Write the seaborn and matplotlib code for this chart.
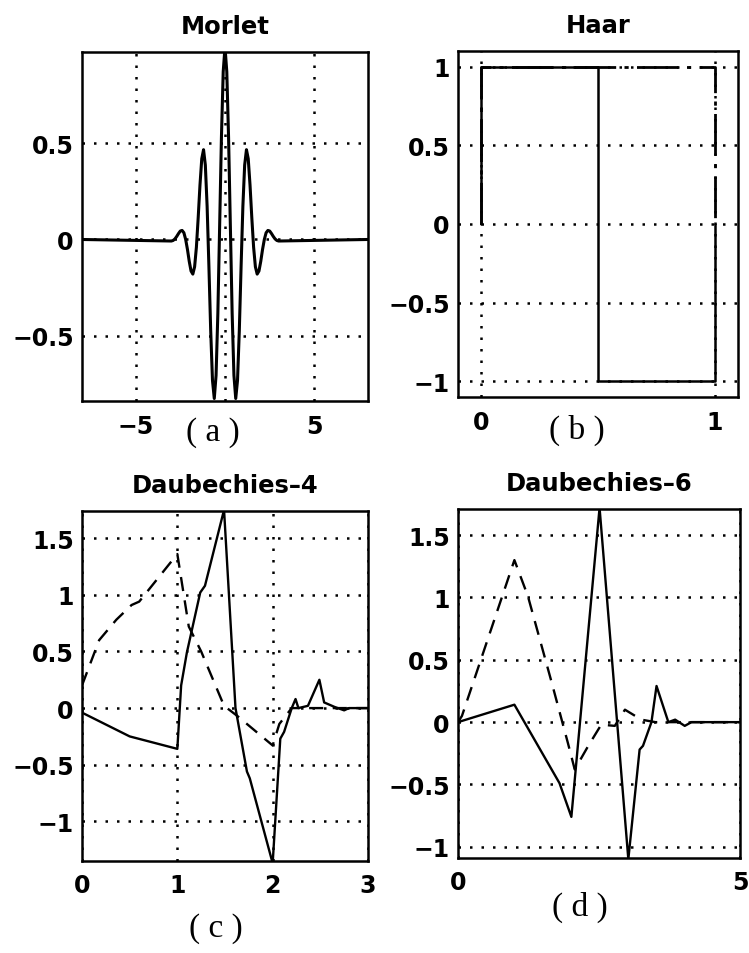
import matplotlib
matplotlib.use("Agg")
import matplotlib.pyplot as plt
import seaborn as sns

# ---------------- data ----------------
morlet_x = [-8.0, -3.0, -2.9, -2.8, -2.7, -2.6, -2.5, -2.4, -2.3, -2.2, -2.1, -2.0,
            -1.9, -1.8, -1.7, -1.6, -1.5, -1.4, -1.3, -1.2, -1.1, -1.0,
            -0.9, -0.8, -0.7, -0.6, -0.5, -0.4, -0.3, -0.2, -0.1, 0.0,
            0.1, 0.2, 0.3, 0.4, 0.5, 0.6, 0.7, 0.8, 0.9, 1.0,
            1.1, 1.2, 1.3, 1.4, 1.5, 1.6, 1.7, 1.8, 1.9, 2.0,
            2.1, 2.2, 2.3, 2.4, 2.5, 2.6, 2.7, 2.8, 2.9, 3.0, 8.0]
morlet_y = [0.0, -0.008, -0.005, 0.003, 0.016, 0.031, 0.044, 0.047, 0.035, 0.0, -0.052, -0.114,
            -0.164, -0.180, -0.142, -0.040, 0.113, 0.283, 0.420, 0.467, 0.387, 0.172,
            -0.141, -0.475, -0.733, -0.827, -0.707, -0.384, 0.068, 0.530, 0.873, 1.0,
            0.873, 0.530, 0.068, -0.384, -0.707, -0.827, -0.733, -0.475, -0.141, 0.172,
            0.387, 0.467, 0.420, 0.283, 0.113, -0.040, -0.142, -0.180, -0.164, -0.114,
            -0.052, 0.0, 0.035, 0.047, 0.044, 0.031, 0.016, 0.003, -0.005, -0.008, 0.0]

haar_psi_x = [0.0, 0.0, 0.5, 0.5, 1.0, 1.0]
haar_psi_y = [0.0, 1.0, 1.0, -1.0, -1.0, 0.0]
haar_phi_x = [0.0, 0.0, 1.0, 1.0]
haar_phi_y = [0.0, 1.0, 1.0, 0.0]

db4_psi_x = [0.0, 0.5, 1.0, 1.04, 1.1, 1.24, 1.29, 1.49, 1.61, 1.73, 1.76, 2.0,
             2.08, 2.12, 2.2, 2.24, 2.27, 2.37, 2.49, 2.54, 2.65, 2.75, 2.8, 3.0]
db4_psi_y = [-0.04, -0.25, -0.36, 0.2, 0.49, 1.02, 1.08, 1.75, 0.0, -0.56, -0.62, -1.37,
             -0.27, -0.21, 0.0, 0.08, 0.0, 0.02, 0.25, 0.05, 0.01, -0.02, 0.0, 0.0]
db4_phi_x = [0.0, 0.18, 0.36, 0.52, 0.6, 1.0, 1.12, 1.25, 1.49, 1.63, 2.0, 2.07, 2.2, 3.0]
db4_phi_y = [0.2, 0.6, 0.78, 0.91, 0.94, 1.36, 0.72, 0.5, 0.02, -0.07, -0.33, -0.14, 0.0, 0.0]

db6_psi_x = [0.0, 1.0, 1.8, 2.01, 2.51, 3.02, 3.22, 3.28, 3.43, 3.52, 3.73, 3.85, 4.02, 4.14, 5.0]
db6_psi_y = [0.0, 0.14, -0.49, -0.76, 1.72, -1.1, -0.22, -0.19, 0.0, 0.29, 0.0, 0.02, -0.03, 0.0, 0.0]
db6_phi_x = [0.0, 0.07, 1.0, 1.24, 1.66, 1.95, 2.07, 2.31, 2.54, 2.78, 2.96, 3.25, 3.5, 5.0]
db6_phi_y = [0.0, 0.05, 1.3, 1.01, 0.32, -0.17, -0.38, -0.19, -0.02, -0.03, 0.1, 0.02, 0.0, 0.0]

titles = ["Morlet", "Haar", "Daubechies\u20134", "Daubechies\u20136"]
panel_labels = ["( a )", "( b )", "( c )", "( d )"]

a_xticks, a_xlabels = [-5, 0, 5], ["\u22125", "", "5"]
a_yticks, a_ylabels = [-0.5, 0, 0.5], ["\u22120.5", "0", "0.5"]
b_xticks, b_xlabels = [0, 1], ["0", "1"]
b_yticks, b_ylabels = [-1, -0.5, 0, 0.5, 1], ["\u22121", "\u22120.5", "0", "0.5", "1"]
c_xticks, c_xlabels = [0, 1, 2, 3], ["0", "1", "2", "3"]
c_yticks, c_ylabels = [-1, -0.5, 0, 0.5, 1, 1.5], ["\u22121", "\u22120.5", "0", "0.5", "1", "1.5"]
d_xticks, d_xlabels = [0, 5], ["0", "5"]
d_yticks, d_ylabels = [-1, -0.5, 0, 0.5, 1, 1.5], ["\u22121", "\u22120.5", "0", "0.5", "1", "1.5"]

# ---------------- figure ----------------
sns.set_theme(style="white")
plt.rcParams['font.family'] = ['DejaVu Sans']
plt.rcParams['axes.axisbelow'] = True
for key in ("text.color", "axes.labelcolor", "xtick.color", "ytick.color", "axes.edgecolor"):
    plt.rcParams[key] = "black"

W, H = 749, 954
fig = plt.figure(figsize=(W / 100, H / 100), dpi=100)
fig.patch.set_facecolor("white")


def box(l, r, t, b):
    return [l / W, (H - b) / H, (r - l) / W, (b - t) / H]


ax_a = fig.add_axes(box(82, 368, 53, 402))
ax_b = fig.add_axes(box(458, 738, 52, 398))
ax_c = fig.add_axes(box(82, 368, 512, 862))
ax_d = fig.add_axes(box(458, 740, 510, 859))

dot_grid = dict(color="black", linestyle=(0, (1, 3.6)), linewidth=1.8)


def style(ax, title, xt, xl, yt, yl, xlim, ylim):
    ax.set_xlim(*xlim)
    ax.set_ylim(*ylim)
    ax.set_xticks(xt)
    ax.set_xticklabels(xl, fontsize=17, fontweight="bold", color="black")
    ax.set_yticks(yt)
    ax.set_yticklabels(yl, fontsize=17, fontweight="bold", color="black")
    ax.tick_params(axis="both", direction="in", length=4, width=1, color="black")
    ax.tick_params(axis="x", pad=9)
    ax.tick_params(axis="y", pad=6)
    ax.grid(True, **dot_grid)
    for s in ax.spines.values():
        s.set_visible(True)
        s.set_color("black")
        s.set_linewidth(1.8)
    ax.set_title(title, fontsize=17.5, fontweight="bold", pad=14, color="black")
    ax.set_xlabel("")
    ax.set_ylabel("")


common = dict(color="black", sort=False, estimator=None)

# (a) Morlet
sns.lineplot(x=morlet_x, y=morlet_y, ax=ax_a, linewidth=2.2, **common)
style(ax_a, titles[0], a_xticks, a_xlabels, a_yticks, a_ylabels, (-8, 8), (-0.84, 0.975))

# (b) Haar
sns.lineplot(x=haar_phi_x, y=haar_phi_y, ax=ax_b, linewidth=2.0,
             linestyle=(0, (15, 3, 1.5, 3)), **common)
sns.lineplot(x=haar_psi_x, y=haar_psi_y, ax=ax_b, linewidth=1.8, **common)
style(ax_b, titles[1], b_xticks, b_xlabels, b_yticks, b_ylabels, (-0.1, 1.1), (-1.1, 1.1))

# (c) Daubechies-4
sns.lineplot(x=db4_phi_x, y=db4_phi_y, ax=ax_c, linewidth=1.7,
             linestyle=(0, (6, 4)), **common)
sns.lineplot(x=db4_psi_x, y=db4_psi_y, ax=ax_c, linewidth=1.7, **common)
style(ax_c, titles[2], c_xticks, c_xlabels, c_yticks, c_ylabels, (0, 3), (-1.35, 1.74))

# (d) Daubechies-6
sns.lineplot(x=db6_phi_x, y=db6_phi_y, ax=ax_d, linewidth=1.7,
             linestyle=(0, (6, 4)), **common)
sns.lineplot(x=db6_psi_x, y=db6_psi_y, ax=ax_d, linewidth=1.7, **common)
style(ax_d, titles[3], d_xticks, d_xlabels, d_yticks, d_ylabels, (0, 5), (-1.09, 1.71))

for ax in (ax_a, ax_b, ax_c, ax_d):
    leg = ax.get_legend()
    if leg is not None:
        leg.remove()

# panel labels
serif = ["Liberation Serif", "DejaVu Serif"]
for (px, py), lab in zip([(213, 433), (577, 430), (216, 929), (580, 907)], panel_labels):
    fig.text(px / W, 1 - py / H, lab, ha="center", va="center",
             fontsize=24, family=serif, color="black")

fig.savefig("out.png", dpi=100, facecolor="white")
